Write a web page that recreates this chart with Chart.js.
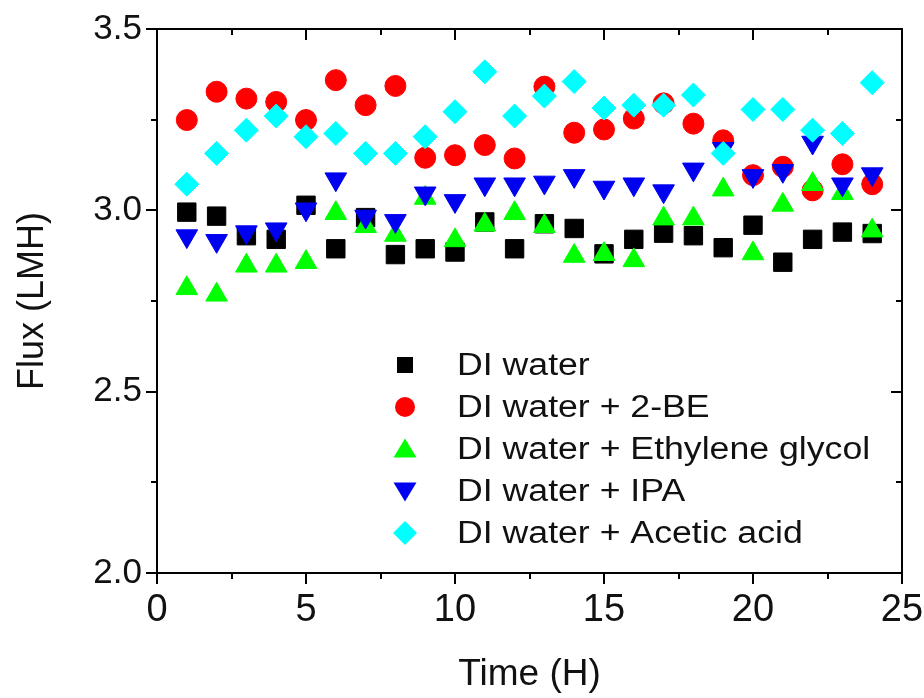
<!DOCTYPE html>
<html>
<head>
<meta charset="utf-8">
<title>Flux vs Time</title>
<script src="https://cdn.jsdelivr.net/npm/chart.js@4.4.1/dist/chart.umd.min.js"></script>
<style>
  body { margin: 0; background: #fff; }
  #wrap { width: 924px; height: 698px; }
</style>
</head>
<body>
<div id="wrap"><canvas id="fluxChart" width="924" height="698"></canvas></div>
<script>
// Flux (LMH), one value per hour
const hours = [1, 2, 3, 4, 5, 6, 7, 8, 9, 10, 11, 12, 13, 14, 15, 16, 17, 18, 19, 20, 21, 22, 23, 24];
const diWater = [2.995, 2.984, 2.93, 2.92, 3.014, 2.894, 2.98, 2.878, 2.894, 2.885, 2.968, 2.894,
                 2.963, 2.95, 2.88, 2.92, 2.937, 2.93, 2.897, 2.959, 2.857, 2.92, 2.94, 2.936];
const be2 = [3.249, 3.327, 3.308, 3.299, 3.249, 3.359, 3.29, 3.343, 3.145, 3.152, 3.18, 3.143,
             3.341, 3.214, 3.223, 3.253, 3.295, 3.239, 3.193, 3.097, 3.12, 3.055, 3.127, 3.072];
const ethyleneGlycol = [2.785, 2.767, 2.847, 2.847, 2.857, 2.992, 2.956, 2.932, 3.034, 2.917, 2.96, 2.992,
                        2.956, 2.874, 2.879, 2.862, 2.977, 2.977, 3.057, 2.881, 3.015, 3.072, 3.047, 2.944];
const ipa = [2.929, 2.916, 2.94, 2.948, 3.003, 3.086, 2.983, 2.971, 3.047, 3.026, 3.072, 3.072,
             3.077, 3.095, 3.063, 3.072, 3.053, 3.113, 3.17, 3.095, 3.109, 3.187, 3.072, 3.1];
const aceticAcid = [3.072, 3.157, 3.221, 3.26, 3.203, 3.212, 3.157, 3.157, 3.203, 3.272, 3.382, 3.26,
                    3.315, 3.355, 3.282, 3.29, 3.29, 3.318, 3.157, 3.278, 3.278, 3.221, 3.212, 3.352];

const seriesNames = ['DI water', 'DI water + 2-BE', 'DI water + Ethylene glycol', 'DI water + IPA', 'DI water + Acetic acid'];
const seriesColors = ['#000000', '#ff0000', '#00ff00', '#0000f0', '#00ffff'];
const seriesShapes = ['rect', 'circle', 'triangle', 'triangleDown', 'rectRot'];

const xMajor = [0, 5, 10, 15, 20, 25];
const yMajor = [2.0, 2.5, 3.0, 3.5];

function toPoints(values) {
    return values.map((v, i) => ({ x: hours[i], y: v }));
}

function makeDataset(i, values, radius) {
    const down = seriesShapes[i] === 'triangleDown';
    return {
        label: seriesNames[i],
        data: toPoints(values),
        showLine: false,
        pointStyle: down ? 'triangle' : seriesShapes[i],
        rotation: down ? 180 : 0,
        pointRadius: radius,
        pointHoverRadius: radius,
        backgroundColor: seriesColors[i],
        borderColor: seriesColors[i],
        borderWidth: 1,
        order: 5 - i   // later series drawn on top, as in the figure
    };
}

// Draws the box frame with Origin-style major/minor ticks
const frameTicks = {
    id: 'frameTicks',
    afterDatasetsDraw(chart) {
        const { ctx, chartArea: a, scales: { x, y } } = chart;
        ctx.save();
        ctx.strokeStyle = '#000';
        ctx.lineWidth = 2;
        ctx.strokeRect(a.left, a.top, a.right - a.left, a.bottom - a.top);
        ctx.beginPath();
        for (let v = 0; v <= 25; v += 2.5) {
            const px = Math.round(x.getPixelForValue(v));
            const len = v % 5 === 0 ? 11 : 6;
            ctx.moveTo(px, a.bottom); ctx.lineTo(px, a.bottom + len);
            ctx.moveTo(px, a.top); ctx.lineTo(px, a.top + len);
        }
        for (let v = 2.0; v <= 3.5001; v += 0.25) {
            const py = Math.round(y.getPixelForValue(v));
            const len = Math.abs(v * 2 - Math.round(v * 2)) < 1e-6 ? 11 : 6;
            ctx.moveTo(a.left, py); ctx.lineTo(a.left - len, py);
            ctx.moveTo(a.right, py); ctx.lineTo(a.right - len, py);
        }
        ctx.stroke();
        ctx.restore();
    }
};

function drawMarker(ctx, shape, cx, cy, r) {
    ctx.beginPath();
    if (shape === 'rect') {
        ctx.rect(cx - r, cy - r, 2 * r, 2 * r);
    } else if (shape === 'circle') {
        ctx.arc(cx, cy, r, 0, Math.PI * 2);
    } else if (shape === 'triangle') {
        ctx.moveTo(cx, cy - r * 1.05);
        ctx.lineTo(cx + r * 1.15, cy + r * 0.85);
        ctx.lineTo(cx - r * 1.15, cy + r * 0.85);
    } else if (shape === 'triangleDown') {
        ctx.moveTo(cx, cy + r * 1.05);
        ctx.lineTo(cx + r * 1.15, cy - r * 0.85);
        ctx.lineTo(cx - r * 1.15, cy - r * 0.85);
    } else {
        ctx.moveTo(cx, cy - r * 1.2);
        ctx.lineTo(cx + r * 1.2, cy);
        ctx.lineTo(cx, cy + r * 1.2);
        ctx.lineTo(cx - r * 1.2, cy);
    }
    ctx.closePath();
    ctx.fill();
}

// Legend sits inside the plot, lower middle
const insideLegend = {
    id: 'insideLegend',
    afterDraw(chart) {
        const { ctx, chartArea: a } = chart;
        const markX = a.left + 248;
        const textX = a.left + 300;
        const top = a.top + 336;
        const step = 42;
        ctx.save();
        ctx.font = '31px "Liberation Sans", Arial, sans-serif';
        ctx.textBaseline = 'middle';
        ctx.textAlign = 'left';
        seriesNames.forEach((name, i) => {
            const yy = top + i * step;
            ctx.fillStyle = seriesColors[i];
            drawMarker(ctx, seriesShapes[i], markX, yy, i === 0 ? 8 : 10);
            ctx.fillStyle = '#111';
            ctx.save();
            ctx.translate(textX, yy + 1);
            ctx.scale(1.15, 1);
            ctx.fillText(name, 0, 0);
            ctx.restore();
        });
        ctx.restore();
    }
};

new Chart(document.getElementById('fluxChart'), {
    type: 'scatter',
    data: {
        datasets: [
            makeDataset(0, diWater, 13),
            makeDataset(1, be2, 10.5),
            makeDataset(2, ethyleneGlycol, 12.5),
            makeDataset(3, ipa, 12.5),
            makeDataset(4, aceticAcid, 12)
        ]
    },
    options: {
        responsive: false,
        animation: false,
        layout: { padding: { top: 29, right: 22, bottom: 0, left: 0 } },
        plugins: {
            legend: { display: false },
            tooltip: { enabled: false }
        },
        scales: {
            x: {
                type: 'linear',
                min: 0,
                max: 25,
                afterFit: scale => {
                    scale.height = 125;
                    scale.paddingLeft = 0;
                    scale.paddingRight = 0;
                },
                afterBuildTicks: scale => { scale.ticks = xMajor.map(v => ({ value: v })); },
                grid: { display: false, drawTicks: false },
                border: { display: false },
                ticks: {
                    padding: 15,
                    color: '#111',
                    font: { family: '"Liberation Sans", Arial, sans-serif', size: 38 },
                    callback: v => String(v)
                },
                title: {
                    display: true,
                    text: 'Time (H)',
                    color: '#111',
                    padding: { top: 0, bottom: 1 },
                    font: { family: '"Liberation Sans", Arial, sans-serif', size: 37 }
                }
            },
            y: {
                type: 'linear',
                min: 2.0,
                max: 3.5,
                afterFit: scale => {
                    scale.width = 157;
                    scale.paddingTop = 0;
                    scale.paddingBottom = 0;
                },
                afterBuildTicks: scale => { scale.ticks = yMajor.map(v => ({ value: v })); },
                grid: { display: false, drawTicks: false },
                border: { display: false },
                ticks: {
                    padding: 15,
                    color: '#111',
                    font: { family: '"Liberation Sans", Arial, sans-serif', size: 35 },
                    callback: v => Number(v).toFixed(1)
                },
                title: {
                    display: true,
                    text: 'Flux (LMH)',
                    color: '#111',
                    padding: { top: 11, bottom: 0 },
                    font: { family: '"Liberation Sans", Arial, sans-serif', size: 36 }
                }
            }
        }
    },
    plugins: [frameTicks, insideLegend]
});
</script>
</body>
</html>
